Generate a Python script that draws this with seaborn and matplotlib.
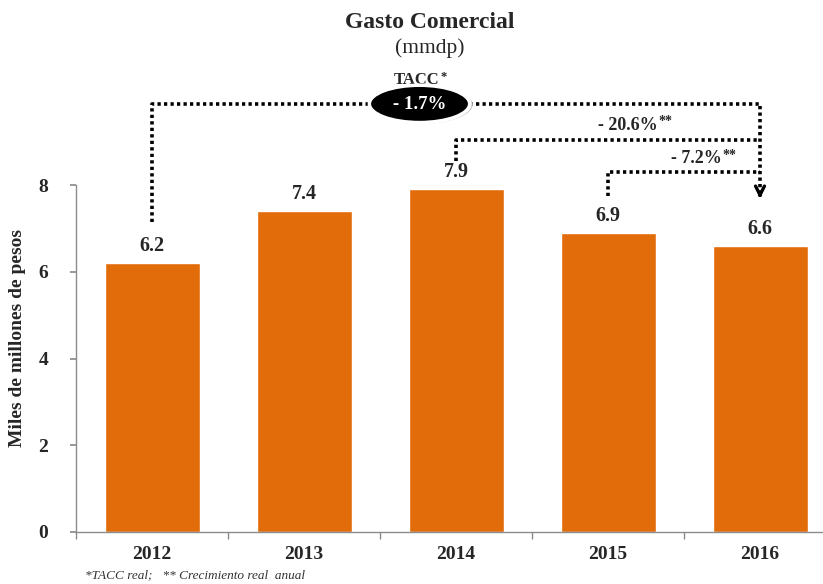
import matplotlib
matplotlib.use("Agg")
import matplotlib.pyplot as plt
from matplotlib.patches import Ellipse
import seaborn as sns
import pandas as pd

years = ["2012", "2013", "2014", "2015", "2016"]
gasto = [6.2, 7.4, 7.9, 6.9, 6.6]
tacc_label = "- 1.7%"
growth_labels = ["- 20.6%", "- 7.2%"]
footnote = "*TACC real;   ** Crecimiento real  anual"

sns.set_theme(style="white")
plt.rcParams["font.family"] = ["Liberation Serif", "DejaVu Serif"]

ORANGE = "#E36C0A"
GRAY = "#8c8c8c"

fig = plt.figure(figsize=(8.23, 5.84), dpi=100)
ax = fig.add_axes([76 / 823, 52 / 584, 760 / 823, 347 / 584])

df = pd.DataFrame({"year": years, "gasto": gasto})
sns.barplot(data=df, x="year", y="gasto", color=ORANGE, saturation=1,
            width=0.625, ax=ax)

ax.set_xlim(-0.5, 4.5)
ax.set_ylim(0, 8)
ax.set_yticks([0, 2, 4, 6, 8])
ax.set_xlabel("")
ax.set_ylabel("Miles de millones de pesos", fontsize=14, fontweight="bold")
ax.yaxis.set_label_coords(-0.066, 0.56)
for s in ["top", "right"]:
    ax.spines[s].set_visible(False)
for s in ["left", "bottom"]:
    ax.spines[s].set_color(GRAY)
    ax.spines[s].set_linewidth(1)

ax.tick_params(axis="y", which="major", left=True, length=4, color=GRAY,
               labelsize=14, pad=16)
ax.tick_params(axis="x", which="major", bottom=False, labelsize=14, pad=4)
ax.set_xticks([i + 0.5 for i in range(-1, 5)], minor=True)
ax.tick_params(axis="x", which="minor", bottom=True, length=5, color=GRAY)
for lab in ax.get_xticklabels() + ax.get_yticklabels():
    lab.set_fontweight("bold")

# value labels above bars
for i, v in enumerate(gasto):
    ax.annotate(f"{v:.1f}", xy=(i, v), xytext=(0, 5), textcoords="offset points",
                ha="center", va="bottom", fontsize=14.5, fontweight="bold")

# dotted connectors
dot = dict(color="black", lw=2.6, linestyle=(0, (0.9, 0.9)), clip_on=False,
           solid_capstyle="butt", dash_capstyle="butt")
ax.plot([0, 0, 4, 4], [7.15, 9.87, 9.87, 7.85], **dot)
ax.plot([2, 2, 4], [8.55, 9.04, 9.04], **dot)
ax.plot([3, 3, 4], [7.75, 8.3, 8.3], **dot)
ax.annotate("", xy=(4, 7.62), xytext=(4, 7.9), annotation_clip=False,
            arrowprops=dict(arrowstyle="->", lw=2.4, color="black",
                            mutation_scale=16))

# TACC bubble
ax.add_patch(Ellipse((1.77, 9.85), 0.68, 0.88, facecolor="#cfcfcf",
                     edgecolor="none", clip_on=False, zorder=4))
ax.add_patch(Ellipse((1.76, 9.87), 0.66, 0.86, facecolor="black",
                     edgecolor="white", lw=2.5, clip_on=False, zorder=5))
ax.text(1.76, 9.85, tacc_label, color="white", ha="center", va="center",
        fontsize=13.5, fontweight="bold", zorder=6)
t = ax.text(1.74, 10.42, "TACC", ha="center", va="center", fontsize=12,
            fontweight="bold")
ax.annotate("*", xy=(1, 1), xycoords=t, xytext=(0.5, 1),
            textcoords="offset points", ha="left", va="top", fontsize=9,
            fontweight="bold")

# growth labels
for (x, y), lab in zip([(3.13, 9.38), (3.58, 8.6)], growth_labels):
    t = ax.text(x, y, lab, ha="center", va="center", fontsize=13,
                fontweight="bold")
    ax.annotate("**", xy=(1, 1), xycoords=t, xytext=(0.5, 1),
                textcoords="offset points", ha="left", va="top", fontsize=10,
                fontweight="bold")

fig.text(0.522, 0.962, "Gasto Comercial", ha="center", va="center",
         fontsize=17, fontweight="bold")
fig.text(0.522, 0.918, "(mmdp)", ha="center", va="center", fontsize=15.5)
fig.text(85 / 823, 1 - 575 / 584, footnote, ha="left", va="center",
         fontsize=9.5, style="italic", color="#333333")

fig.savefig("out.png", dpi=100)
